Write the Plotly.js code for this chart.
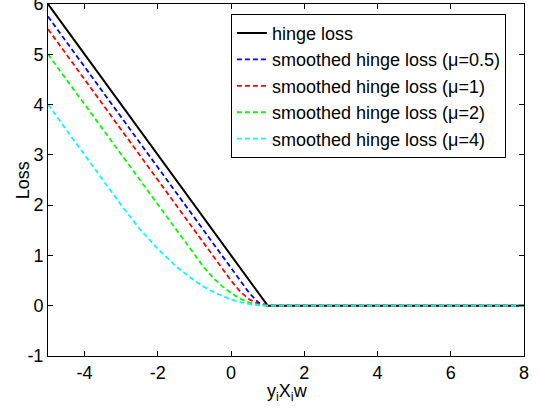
<!DOCTYPE html>
<html>
<head>
<meta charset="utf-8">
<script src="https://cdn.plot.ly/plotly-3.0.1.min.js"></script>
<style>html,body{margin:0;padding:0;background:#fff;}#chart{width:538px;height:408px;}</style>
</head>
<body>
<div id="chart"></div>
<script>
// Sample positions of the margin y_i X_i w
const xVals = [-5, -4, -3, -2.5, -2, -1.5, -1, -0.75, -0.5, -0.25, 0, 0.25, 0.5, 0.75, 1, 8];
// Loss values
const hingeLoss = [6, 5, 4, 3.5, 3, 2.5, 2, 1.75, 1.5, 1.25, 1, 0.75, 0.5, 0.25, 0, 0];
const smoothMu05 = [5.75, 4.75, 3.75, 3.25, 2.75, 2.25, 1.75, 1.5, 1.25, 1, 0.75, 0.5, 0.25, 0.06, 0, 0];
const smoothMu1 = [5.5, 4.5, 3.5, 3, 2.5, 2, 1.5, 1.25, 1, 0.75, 0.5, 0.28, 0.125, 0.03, 0, 0];
const smoothMu2 = [5, 4, 3, 2.5, 2, 1.5, 1, 0.77, 0.56, 0.39, 0.25, 0.14, 0.06, 0.016, 0, 0];
const smoothMu4 = [4, 3, 2, 1.53, 1.13, 0.78, 0.5, 0.38, 0.28, 0.2, 0.125, 0.07, 0.03, 0.008, 0, 0];
const seriesNames = ['hinge loss', 'smoothed hinge loss (\u03bc=0.5)', 'smoothed hinge loss (\u03bc=1)',
  'smoothed hinge loss (\u03bc=2)', 'smoothed hinge loss (\u03bc=4)'];
const xTicks = [-4, -2, 0, 2, 4, 6, 8];
const xTickLabels = ['-4', '-2', '0', '2', '4', '6', '8'];
const yTicks = [-1, 0, 1, 2, 3, 4, 5, 6];
const yTickLabels = ['-1', '0', '1', '2', '3', '4', '5', '6'];
const xTitle = 'y<sub>i</sub>X<sub>i</sub>w';
const yTitle = 'Loss';

const seriesY = [hingeLoss, smoothMu05, smoothMu1, smoothMu2, smoothMu4];
const colors = ['#000000', '#0000ff', '#ff0000', '#00ff00', '#00ffff'];
const traces = seriesY.map((y, i) => ({
  x: xVals, y: y, type: 'scatter', mode: 'lines', name: seriesNames[i],
  line: {color: colors[i], width: i === 0 ? 2 : 1.8, dash: i === 0 ? 'solid' : '5px,3px'}
}));

const font = {family: 'Liberation Sans, Arial, sans-serif', size: 18, color: '#000'};
const layout = {
  width: 538, height: 408,
  margin: {l: 48, r: 14, t: 4, b: 52},
  paper_bgcolor: '#fff', plot_bgcolor: '#fff',
  font: font,
  showlegend: true,
  legend: {x: 0.962, xanchor: 'right', y: 0.972, yanchor: 'top', bgcolor: '#fff',
    bordercolor: '#000', borderwidth: 1, font: font, tracegroupgap: 0},
  xaxis: {range: [-5, 8], tickmode: 'array', tickvals: xTicks, ticktext: xTickLabels,
    ticks: 'inside', ticklen: 5, tickcolor: '#000', showline: true, linecolor: '#000', linewidth: 1,
    mirror: 'ticks', showgrid: false, zeroline: false, ticklabeloverflow: 'allow'},
  yaxis: {range: [-1, 6], tickmode: 'array', tickvals: yTicks, ticktext: yTickLabels,
    ticks: 'inside', ticklen: 5, tickcolor: '#000', showline: true, linecolor: '#000', linewidth: 1,
    mirror: 'ticks', showgrid: false, zeroline: false, ticklabeloverflow: 'allow'},
  annotations: [
    {text: xTitle, xref: 'paper', yref: 'paper', x: 0.504, y: -0.104, xanchor: 'center', yanchor: 'middle',
      showarrow: false, font: font},
    {text: yTitle, xref: 'paper', yref: 'paper', x: -0.052, y: 0.5, xanchor: 'center', yanchor: 'middle',
      textangle: -90, showarrow: false, font: font}
  ]
};
Plotly.newPlot('chart', traces, layout, {displayModeBar: false, staticPlot: true});
</script>
</body>
</html>
